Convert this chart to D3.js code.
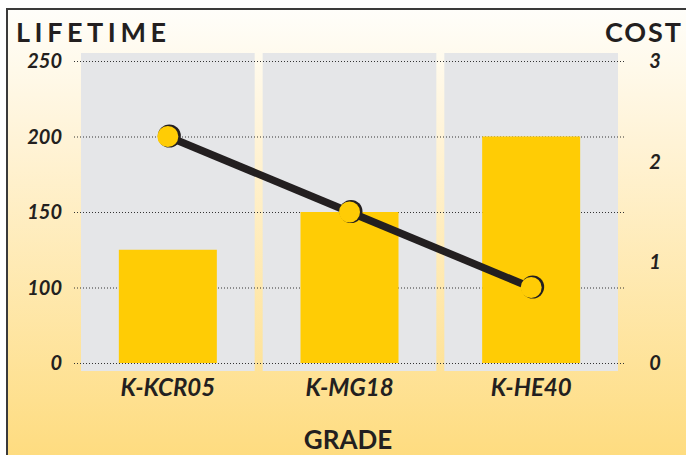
<!DOCTYPE html>
<html>
<head>
<meta charset="utf-8">
<script src="https://cdn.jsdelivr.net/npm/d3@7"></script>
<style>
  body { margin: 0; background: #fff; }
  text { font-family: Lato, "Noto Sans", sans-serif; fill: #231f20; }
</style>
</head>
<body>
<div id="chart"></div>
<script>
// Datos
var grades = ["K-KCR05", "K-MG18", "K-HE40"];
var lifetime = [125, 150, 200];
var cost = [2.25, 1.5, 0.75];
var lifeTicks = [0, 100, 150, 200, 250];
var costTicks = [0, 1, 2, 3];

var width = 686, height = 455;

var svg = d3.select("#chart").append("svg")
  .attr("width", width)
  .attr("height", height);

// fondo degradado
var defs = svg.append("defs");
var grad = defs.append("linearGradient")
  .attr("id", "bg").attr("x1", 0).attr("y1", 0).attr("x2", 0).attr("y2", 1);
grad.append("stop").attr("offset", "0%").attr("stop-color", "#fffefa");
grad.append("stop").attr("offset", "30%").attr("stop-color", "#fff3d6");
grad.append("stop").attr("offset", "100%").attr("stop-color", "#fedc80");

svg.append("rect")
  .attr("x", 7).attr("y", 9).attr("width", width - 7).attr("height", height - 9)
  .attr("fill", "url(#bg)");
svg.append("path")
  .attr("d", "M7," + height + "V9H" + width)
  .attr("fill", "none").attr("stroke", "#3a3a3a").attr("stroke-width", 2);

// escalas
var x = d3.scaleBand()
  .domain(grades)
  .range([81, 618])
  .paddingInner(0.044);

// eje izquierdo con ticks equiespaciados (eje cortado entre 0 y 100)
var yTick = d3.scalePoint().domain(lifeTicks).range([363, 61]);
var yL = d3.scaleLinear().domain(lifeTicks).range(lifeTicks.map(yTick));
var yR = d3.scaleLinear().domain([0, 3]).range([363, 61]);

// paneles grises
svg.append("g").selectAll("rect")
  .data(grades)
  .enter().append("rect")
  .attr("x", function(d) { return x(d); })
  .attr("y", 53)
  .attr("width", x.bandwidth())
  .attr("height", 371 - 53)
  .attr("fill", "#e5e6e8");

// lineas de grid punteadas
svg.append("g").selectAll("line")
  .data(lifeTicks)
  .enter().append("line")
  .attr("x1", 74).attr("x2", 626)
  .attr("y1", function(d) { return yL(d) + 0.5; })
  .attr("y2", function(d) { return yL(d) + 0.5; })
  .attr("stroke", "#333")
  .attr("stroke-width", 1)
  .attr("stroke-dasharray", "1,2");

// barras
var barW = 98;
svg.append("g").selectAll("rect")
  .data(lifetime)
  .enter().append("rect")
  .attr("x", function(d, i) { return x(grades[i]) + (x.bandwidth() - barW) / 2; })
  .attr("y", function(d) { return yL(d); })
  .attr("width", barW)
  .attr("height", function(d) { return yL(0) - yL(d); })
  .attr("fill", "#ffcc05");

// linea de coste
var line = d3.line()
  .x(function(d, i) { return x(grades[i]) + x.bandwidth() / 2; })
  .y(function(d) { return yR(d); });

svg.append("path")
  .attr("d", line(cost))
  .attr("fill", "none")
  .attr("stroke", "#231f20")
  .attr("stroke-width", 7.5);

var pts = svg.append("g").selectAll("g")
  .data(cost)
  .enter().append("g")
  .attr("transform", function(d, i) {
    return "translate(" + (x(grades[i]) + x.bandwidth() / 2) + "," + yR(d) + ")";
  });
pts.append("circle").attr("cx", 1.5).attr("cy", -0.5).attr("r", 11.5).attr("fill", "#231f20");
pts.append("circle").attr("r", 10.5).attr("fill", "#ffcc05");

// etiquetas eje izquierdo
svg.append("g").selectAll("text")
  .data(lifeTicks)
  .enter().append("text")
  .attr("x", 62)
  .attr("y", function(d) { return yL(d) + 7; })
  .attr("text-anchor", "end")
  .style("font-size", "20px").style("font-weight", "bold").style("font-style", "italic")
  .text(function(d) { return d; });

// etiquetas eje derecho
svg.append("g").selectAll("text")
  .data(costTicks)
  .enter().append("text")
  .attr("x", 655)
  .attr("y", function(d) { return yR(d) + 7; })
  .attr("text-anchor", "middle")
  .style("font-size", "20px").style("font-weight", "bold").style("font-style", "italic")
  .text(function(d) { return d; });

// categorias
svg.append("g").selectAll("text")
  .data(grades)
  .enter().append("text")
  .attr("x", function(d) { return x(d) + x.bandwidth() / 2; })
  .attr("y", 396)
  .attr("text-anchor", "middle")
  .style("font-size", "24px").style("font-weight", "bold").style("font-style", "italic")
  .text(function(d) { return d; });

// titulos
svg.append("text")
  .attr("x", 16).attr("y", 42)
  .attr("textLength", 150).attr("lengthAdjust", "spacing")
  .style("font-size", "27px").style("font-weight", "bold")
  .text("LIFETIME");
svg.append("text")
  .attr("x", 605).attr("y", 42)
  .attr("textLength", 76).attr("lengthAdjust", "spacing")
  .style("font-size", "27px").style("font-weight", "bold")
  .text("COST");
svg.append("text")
  .attr("x", 348).attr("y", 449)
  .attr("text-anchor", "middle")
  .style("font-size", "26px").style("font-weight", "bold")
  .text("GRADE");
</script>
</body>
</html>
